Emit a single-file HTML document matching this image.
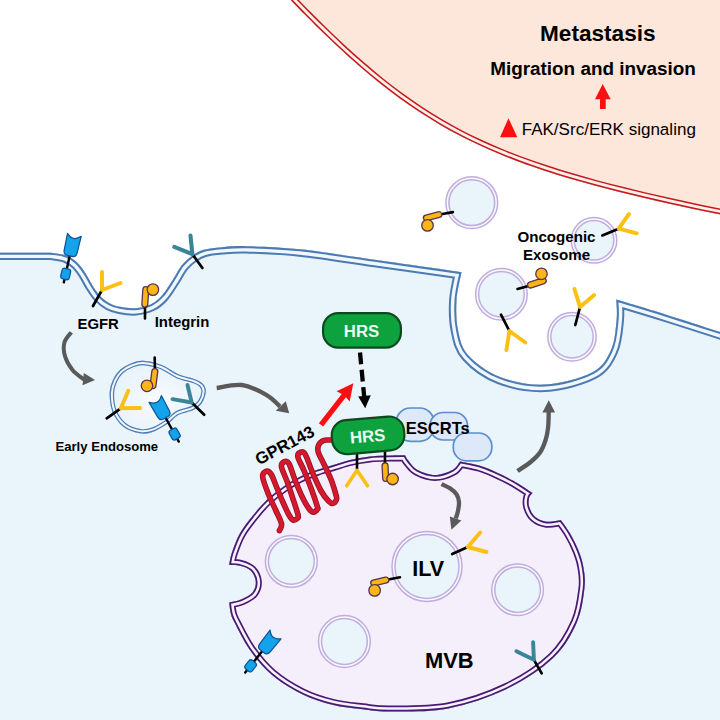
<!DOCTYPE html>
<html><head><meta charset="utf-8"><title>GPR143 / HRS exosome pathway</title>
<style>
html,body{margin:0;padding:0;background:#fff;}
body{width:720px;height:720px;overflow:hidden;}
svg{display:block;font-family:"Liberation Sans",sans-serif;}
</style></head><body>
<svg width="720" height="720" viewBox="0 0 720 720">
<rect width="720" height="720" fill="#ffffff"/>
<clipPath id="cpPink"><path d="M269.60 -22.41 C271.27 -20.63 275.93 -15.60 279.60 -11.72 C283.27 -7.84 287.43 -3.44 291.60 0.88 C295.77 5.21 299.93 9.52 304.60 14.24 C309.27 18.96 313.77 23.52 319.60 29.20 C325.43 34.87 332.93 42.12 339.60 48.29 C346.27 54.47 352.93 60.49 359.60 66.26 C366.27 72.04 372.93 77.63 379.60 82.96 C386.27 88.29 392.93 93.40 399.60 98.26 C406.27 103.11 412.93 107.72 419.60 112.10 C426.27 116.47 432.93 120.59 439.60 124.50 C446.27 128.40 452.93 132.06 459.60 135.53 C466.27 139.01 472.93 142.25 479.60 145.34 C486.27 148.43 492.93 151.31 499.60 154.07 C506.27 156.83 512.10 159.14 519.60 161.90 C527.10 164.66 536.27 167.88 544.60 170.63 C552.93 173.39 561.27 175.95 569.60 178.43 C577.93 180.91 586.27 183.24 594.60 185.50 C602.93 187.76 611.27 189.91 619.60 192.00 C627.93 194.09 636.27 196.09 644.60 198.04 C652.93 200.00 661.27 201.88 669.60 203.73 C677.93 205.58 686.27 207.37 694.60 209.13 C702.93 210.89 710.43 212.44 719.60 214.29 C728.77 216.14 744.60 219.25 749.60 220.24 L750 -30 L270 -30 Z"/></clipPath>
<g clip-path="url(#cpPink)"><path d="M269.60 -22.41 C271.27 -20.63 275.93 -15.60 279.60 -11.72 C283.27 -7.84 287.43 -3.44 291.60 0.88 C295.77 5.21 299.93 9.52 304.60 14.24 C309.27 18.96 313.77 23.52 319.60 29.20 C325.43 34.87 332.93 42.12 339.60 48.29 C346.27 54.47 352.93 60.49 359.60 66.26 C366.27 72.04 372.93 77.63 379.60 82.96 C386.27 88.29 392.93 93.40 399.60 98.26 C406.27 103.11 412.93 107.72 419.60 112.10 C426.27 116.47 432.93 120.59 439.60 124.50 C446.27 128.40 452.93 132.06 459.60 135.53 C466.27 139.01 472.93 142.25 479.60 145.34 C486.27 148.43 492.93 151.31 499.60 154.07 C506.27 156.83 512.10 159.14 519.60 161.90 C527.10 164.66 536.27 167.88 544.60 170.63 C552.93 173.39 561.27 175.95 569.60 178.43 C577.93 180.91 586.27 183.24 594.60 185.50 C602.93 187.76 611.27 189.91 619.60 192.00 C627.93 194.09 636.27 196.09 644.60 198.04 C652.93 200.00 661.27 201.88 669.60 203.73 C677.93 205.58 686.27 207.37 694.60 209.13 C702.93 210.89 710.43 212.44 719.60 214.29 C728.77 216.14 744.60 219.25 749.60 220.24 L750 -30 L270 -30 Z" fill="#fde6da"/>
<path d="M269.60 -22.41 C271.27 -20.63 275.93 -15.60 279.60 -11.72 C283.27 -7.84 287.43 -3.44 291.60 0.88 C295.77 5.21 299.93 9.52 304.60 14.24 C309.27 18.96 313.77 23.52 319.60 29.20 C325.43 34.87 332.93 42.12 339.60 48.29 C346.27 54.47 352.93 60.49 359.60 66.26 C366.27 72.04 372.93 77.63 379.60 82.96 C386.27 88.29 392.93 93.40 399.60 98.26 C406.27 103.11 412.93 107.72 419.60 112.10 C426.27 116.47 432.93 120.59 439.60 124.50 C446.27 128.40 452.93 132.06 459.60 135.53 C466.27 139.01 472.93 142.25 479.60 145.34 C486.27 148.43 492.93 151.31 499.60 154.07 C506.27 156.83 512.10 159.14 519.60 161.90 C527.10 164.66 536.27 167.88 544.60 170.63 C552.93 173.39 561.27 175.95 569.60 178.43 C577.93 180.91 586.27 183.24 594.60 185.50 C602.93 187.76 611.27 189.91 619.60 192.00 C627.93 194.09 636.27 196.09 644.60 198.04 C652.93 200.00 661.27 201.88 669.60 203.73 C677.93 205.58 686.27 207.37 694.60 209.13 C702.93 210.89 710.43 212.44 719.60 214.29 C728.77 216.14 744.60 219.25 749.60 220.24 L750 -30 L270 -30 Z" fill="none" stroke="#c4191d" stroke-width="11.6"/>
<path d="M269.60 -22.41 C271.27 -20.63 275.93 -15.60 279.60 -11.72 C283.27 -7.84 287.43 -3.44 291.60 0.88 C295.77 5.21 299.93 9.52 304.60 14.24 C309.27 18.96 313.77 23.52 319.60 29.20 C325.43 34.87 332.93 42.12 339.60 48.29 C346.27 54.47 352.93 60.49 359.60 66.26 C366.27 72.04 372.93 77.63 379.60 82.96 C386.27 88.29 392.93 93.40 399.60 98.26 C406.27 103.11 412.93 107.72 419.60 112.10 C426.27 116.47 432.93 120.59 439.60 124.50 C446.27 128.40 452.93 132.06 459.60 135.53 C466.27 139.01 472.93 142.25 479.60 145.34 C486.27 148.43 492.93 151.31 499.60 154.07 C506.27 156.83 512.10 159.14 519.60 161.90 C527.10 164.66 536.27 167.88 544.60 170.63 C552.93 173.39 561.27 175.95 569.60 178.43 C577.93 180.91 586.27 183.24 594.60 185.50 C602.93 187.76 611.27 189.91 619.60 192.00 C627.93 194.09 636.27 196.09 644.60 198.04 C652.93 200.00 661.27 201.88 669.60 203.73 C677.93 205.58 686.27 207.37 694.60 209.13 C702.93 210.89 710.43 212.44 719.60 214.29 C728.77 216.14 744.60 219.25 749.60 220.24 L750 -30 L270 -30 Z" fill="none" stroke="#fdf0e9" stroke-width="8.6"/>
<path d="M269.60 -22.41 C271.27 -20.63 275.93 -15.60 279.60 -11.72 C283.27 -7.84 287.43 -3.44 291.60 0.88 C295.77 5.21 299.93 9.52 304.60 14.24 C309.27 18.96 313.77 23.52 319.60 29.20 C325.43 34.87 332.93 42.12 339.60 48.29 C346.27 54.47 352.93 60.49 359.60 66.26 C366.27 72.04 372.93 77.63 379.60 82.96 C386.27 88.29 392.93 93.40 399.60 98.26 C406.27 103.11 412.93 107.72 419.60 112.10 C426.27 116.47 432.93 120.59 439.60 124.50 C446.27 128.40 452.93 132.06 459.60 135.53 C466.27 139.01 472.93 142.25 479.60 145.34 C486.27 148.43 492.93 151.31 499.60 154.07 C506.27 156.83 512.10 159.14 519.60 161.90 C527.10 164.66 536.27 167.88 544.60 170.63 C552.93 173.39 561.27 175.95 569.60 178.43 C577.93 180.91 586.27 183.24 594.60 185.50 C602.93 187.76 611.27 189.91 619.60 192.00 C627.93 194.09 636.27 196.09 644.60 198.04 C652.93 200.00 661.27 201.88 669.60 203.73 C677.93 205.58 686.27 207.37 694.60 209.13 C702.93 210.89 710.43 212.44 719.60 214.29 C728.77 216.14 744.60 219.25 749.60 220.24 L750 -30 L270 -30 Z" fill="none" stroke="#c4191d" stroke-width="3.0"/></g>
<clipPath id="cpCell"><path d="M-30.00 252.70 C-21.67 252.70 7.50 252.70 20.00 252.70 C32.50 252.70 39.50 252.67 45.00 252.70 C50.50 252.73 49.50 252.43 53.00 252.90 C56.50 253.37 62.08 253.98 66.00 255.50 C69.92 257.02 73.33 259.17 76.50 262.00 C79.67 264.83 82.33 268.58 85.00 272.50 C87.67 276.42 90.00 281.58 92.50 285.50 C95.00 289.42 97.17 293.05 100.00 296.00 C102.83 298.95 106.17 301.40 109.50 303.20 C112.83 305.00 115.67 305.97 120.00 306.80 C124.33 307.63 130.33 308.63 135.50 308.20 C140.67 307.77 146.58 306.32 151.00 304.20 C155.42 302.08 158.33 299.62 162.00 295.50 C165.67 291.38 169.67 284.58 173.00 279.50 C176.33 274.42 178.67 269.05 182.00 265.00 C185.33 260.95 189.33 257.73 193.00 255.20 C196.67 252.67 199.17 251.13 204.00 249.80 C208.83 248.47 214.88 247.80 222.00 247.20 C229.12 246.60 233.70 245.85 246.70 246.20 C259.70 246.55 277.78 246.90 300.00 249.30 C322.22 251.70 353.08 256.78 380.00 260.60 C406.92 264.42 447.92 270.27 461.50 272.20 C460.67 276.83 457.08 290.37 456.50 300.00 C455.92 309.63 456.08 320.83 458.00 330.00 C459.92 339.17 461.00 347.17 468.00 355.00 C475.00 362.83 487.08 372.07 500.00 377.00 C512.92 381.93 530.08 385.38 545.50 384.60 C560.92 383.82 581.58 378.07 592.50 372.30 C603.42 366.53 606.98 358.72 611.00 350.00 C615.02 341.28 615.72 328.40 616.60 320.00 C617.48 311.60 616.35 303.00 616.30 299.60 C624.75 302.17 644.72 307.98 667.00 315.00 C689.28 322.02 736.17 337.25 750.00 341.70 L750 760 L-30 760 Z"/></clipPath>
<g clip-path="url(#cpCell)" stroke-linejoin="miter" stroke-miterlimit="20"><path d="M-30.00 252.70 C-21.67 252.70 7.50 252.70 20.00 252.70 C32.50 252.70 39.50 252.67 45.00 252.70 C50.50 252.73 49.50 252.43 53.00 252.90 C56.50 253.37 62.08 253.98 66.00 255.50 C69.92 257.02 73.33 259.17 76.50 262.00 C79.67 264.83 82.33 268.58 85.00 272.50 C87.67 276.42 90.00 281.58 92.50 285.50 C95.00 289.42 97.17 293.05 100.00 296.00 C102.83 298.95 106.17 301.40 109.50 303.20 C112.83 305.00 115.67 305.97 120.00 306.80 C124.33 307.63 130.33 308.63 135.50 308.20 C140.67 307.77 146.58 306.32 151.00 304.20 C155.42 302.08 158.33 299.62 162.00 295.50 C165.67 291.38 169.67 284.58 173.00 279.50 C176.33 274.42 178.67 269.05 182.00 265.00 C185.33 260.95 189.33 257.73 193.00 255.20 C196.67 252.67 199.17 251.13 204.00 249.80 C208.83 248.47 214.88 247.80 222.00 247.20 C229.12 246.60 233.70 245.85 246.70 246.20 C259.70 246.55 277.78 246.90 300.00 249.30 C322.22 251.70 353.08 256.78 380.00 260.60 C406.92 264.42 447.92 270.27 461.50 272.20 C460.67 276.83 457.08 290.37 456.50 300.00 C455.92 309.63 456.08 320.83 458.00 330.00 C459.92 339.17 461.00 347.17 468.00 355.00 C475.00 362.83 487.08 372.07 500.00 377.00 C512.92 381.93 530.08 385.38 545.50 384.60 C560.92 383.82 581.58 378.07 592.50 372.30 C603.42 366.53 606.98 358.72 611.00 350.00 C615.02 341.28 615.72 328.40 616.60 320.00 C617.48 311.60 616.35 303.00 616.30 299.60 C624.75 302.17 644.72 307.98 667.00 315.00 C689.28 322.02 736.17 337.25 750.00 341.70 L750 760 L-30 760 Z" fill="#e9f4fb"/>
<path d="M-30.00 252.70 C-21.67 252.70 7.50 252.70 20.00 252.70 C32.50 252.70 39.50 252.67 45.00 252.70 C50.50 252.73 49.50 252.43 53.00 252.90 C56.50 253.37 62.08 253.98 66.00 255.50 C69.92 257.02 73.33 259.17 76.50 262.00 C79.67 264.83 82.33 268.58 85.00 272.50 C87.67 276.42 90.00 281.58 92.50 285.50 C95.00 289.42 97.17 293.05 100.00 296.00 C102.83 298.95 106.17 301.40 109.50 303.20 C112.83 305.00 115.67 305.97 120.00 306.80 C124.33 307.63 130.33 308.63 135.50 308.20 C140.67 307.77 146.58 306.32 151.00 304.20 C155.42 302.08 158.33 299.62 162.00 295.50 C165.67 291.38 169.67 284.58 173.00 279.50 C176.33 274.42 178.67 269.05 182.00 265.00 C185.33 260.95 189.33 257.73 193.00 255.20 C196.67 252.67 199.17 251.13 204.00 249.80 C208.83 248.47 214.88 247.80 222.00 247.20 C229.12 246.60 233.70 245.85 246.70 246.20 C259.70 246.55 277.78 246.90 300.00 249.30 C322.22 251.70 353.08 256.78 380.00 260.60 C406.92 264.42 447.92 270.27 461.50 272.20 C460.67 276.83 457.08 290.37 456.50 300.00 C455.92 309.63 456.08 320.83 458.00 330.00 C459.92 339.17 461.00 347.17 468.00 355.00 C475.00 362.83 487.08 372.07 500.00 377.00 C512.92 381.93 530.08 385.38 545.50 384.60 C560.92 383.82 581.58 378.07 592.50 372.30 C603.42 366.53 606.98 358.72 611.00 350.00 C615.02 341.28 615.72 328.40 616.60 320.00 C617.48 311.60 616.35 303.00 616.30 299.60 C624.75 302.17 644.72 307.98 667.00 315.00 C689.28 322.02 736.17 337.25 750.00 341.70 L750 760 L-30 760 Z" fill="none" stroke="#4c7ab3" stroke-width="14.8"/>
<path d="M-30.00 252.70 C-21.67 252.70 7.50 252.70 20.00 252.70 C32.50 252.70 39.50 252.67 45.00 252.70 C50.50 252.73 49.50 252.43 53.00 252.90 C56.50 253.37 62.08 253.98 66.00 255.50 C69.92 257.02 73.33 259.17 76.50 262.00 C79.67 264.83 82.33 268.58 85.00 272.50 C87.67 276.42 90.00 281.58 92.50 285.50 C95.00 289.42 97.17 293.05 100.00 296.00 C102.83 298.95 106.17 301.40 109.50 303.20 C112.83 305.00 115.67 305.97 120.00 306.80 C124.33 307.63 130.33 308.63 135.50 308.20 C140.67 307.77 146.58 306.32 151.00 304.20 C155.42 302.08 158.33 299.62 162.00 295.50 C165.67 291.38 169.67 284.58 173.00 279.50 C176.33 274.42 178.67 269.05 182.00 265.00 C185.33 260.95 189.33 257.73 193.00 255.20 C196.67 252.67 199.17 251.13 204.00 249.80 C208.83 248.47 214.88 247.80 222.00 247.20 C229.12 246.60 233.70 245.85 246.70 246.20 C259.70 246.55 277.78 246.90 300.00 249.30 C322.22 251.70 353.08 256.78 380.00 260.60 C406.92 264.42 447.92 270.27 461.50 272.20 C460.67 276.83 457.08 290.37 456.50 300.00 C455.92 309.63 456.08 320.83 458.00 330.00 C459.92 339.17 461.00 347.17 468.00 355.00 C475.00 362.83 487.08 372.07 500.00 377.00 C512.92 381.93 530.08 385.38 545.50 384.60 C560.92 383.82 581.58 378.07 592.50 372.30 C603.42 366.53 606.98 358.72 611.00 350.00 C615.02 341.28 615.72 328.40 616.60 320.00 C617.48 311.60 616.35 303.00 616.30 299.60 C624.75 302.17 644.72 307.98 667.00 315.00 C689.28 322.02 736.17 337.25 750.00 341.70 L750 760 L-30 760 Z" fill="none" stroke="#f1f8fd" stroke-width="10.8"/>
<path d="M-30.00 252.70 C-21.67 252.70 7.50 252.70 20.00 252.70 C32.50 252.70 39.50 252.67 45.00 252.70 C50.50 252.73 49.50 252.43 53.00 252.90 C56.50 253.37 62.08 253.98 66.00 255.50 C69.92 257.02 73.33 259.17 76.50 262.00 C79.67 264.83 82.33 268.58 85.00 272.50 C87.67 276.42 90.00 281.58 92.50 285.50 C95.00 289.42 97.17 293.05 100.00 296.00 C102.83 298.95 106.17 301.40 109.50 303.20 C112.83 305.00 115.67 305.97 120.00 306.80 C124.33 307.63 130.33 308.63 135.50 308.20 C140.67 307.77 146.58 306.32 151.00 304.20 C155.42 302.08 158.33 299.62 162.00 295.50 C165.67 291.38 169.67 284.58 173.00 279.50 C176.33 274.42 178.67 269.05 182.00 265.00 C185.33 260.95 189.33 257.73 193.00 255.20 C196.67 252.67 199.17 251.13 204.00 249.80 C208.83 248.47 214.88 247.80 222.00 247.20 C229.12 246.60 233.70 245.85 246.70 246.20 C259.70 246.55 277.78 246.90 300.00 249.30 C322.22 251.70 353.08 256.78 380.00 260.60 C406.92 264.42 447.92 270.27 461.50 272.20 C460.67 276.83 457.08 290.37 456.50 300.00 C455.92 309.63 456.08 320.83 458.00 330.00 C459.92 339.17 461.00 347.17 468.00 355.00 C475.00 362.83 487.08 372.07 500.00 377.00 C512.92 381.93 530.08 385.38 545.50 384.60 C560.92 383.82 581.58 378.07 592.50 372.30 C603.42 366.53 606.98 358.72 611.00 350.00 C615.02 341.28 615.72 328.40 616.60 320.00 C617.48 311.60 616.35 303.00 616.30 299.60 C624.75 302.17 644.72 307.98 667.00 315.00 C689.28 322.02 736.17 337.25 750.00 341.70 L750 760 L-30 760 Z" fill="none" stroke="#4c7ab3" stroke-width="4.0"/></g>
<clipPath id="cpMvb"><path d="M229.20 602.50 C229.47 604.30 229.93 610.02 230.80 613.30 C231.67 616.58 231.25 616.13 234.40 622.20 C237.55 628.27 243.58 641.03 249.70 649.70 C255.82 658.37 262.43 666.82 271.10 674.20 C279.77 681.58 291.52 688.92 301.70 694.00 C311.88 699.08 322.02 702.15 332.20 704.70 C342.38 707.25 353.17 708.17 362.80 709.30 C372.43 710.43 375.75 711.65 390.00 711.50 C404.25 711.35 428.85 712.15 448.30 708.40 C467.75 704.65 489.18 697.43 506.70 689.00 C524.22 680.57 541.73 668.83 553.40 657.80 C565.07 646.77 571.52 634.47 576.70 622.80 C581.88 611.13 583.40 597.15 584.50 587.80 C585.60 578.45 584.33 573.00 583.30 566.70 C582.27 560.40 580.52 555.57 578.30 550.00 C576.08 544.43 572.92 538.30 570.00 533.30 C567.08 528.30 562.33 522.22 560.80 520.00 C558.45 520.28 551.00 522.25 546.70 521.70 C542.40 521.15 537.92 519.20 535.00 516.70 C532.08 514.20 530.17 509.90 529.20 506.70 C528.23 503.50 528.65 499.78 529.20 497.50 C529.75 495.22 531.95 493.75 532.50 493.00 C529.30 490.97 519.27 484.22 513.30 480.80 C507.33 477.38 502.25 475.00 496.70 472.50 C491.15 470.00 486.12 467.63 480.00 465.80 C473.88 463.97 463.33 462.22 460.00 461.50 C458.75 462.92 456.67 467.75 452.50 470.00 C448.33 472.25 440.83 475.00 435.00 475.00 C429.17 475.00 421.87 472.28 417.50 470.00 C413.13 467.72 410.88 463.75 408.80 461.30 C406.72 458.85 405.63 456.30 405.00 455.30 C402.50 455.33 395.83 455.30 390.00 455.50 C384.17 455.70 376.67 455.75 370.00 456.50 C363.33 457.25 356.12 458.58 350.00 460.00 C343.88 461.42 338.85 463.33 333.30 465.00 C327.75 466.67 322.25 468.05 316.70 470.00 C311.15 471.95 305.57 473.92 300.00 476.70 C294.43 479.48 288.85 482.82 283.30 486.70 C277.75 490.58 271.70 495.28 266.70 500.00 C261.70 504.72 257.75 509.45 253.30 515.00 C248.85 520.55 243.60 526.92 240.00 533.30 C236.40 539.68 233.50 548.02 231.70 553.30 C229.90 558.58 229.62 563.05 229.20 565.00 C231.00 565.13 236.40 564.83 240.00 565.80 C243.60 566.77 248.17 568.15 250.80 570.80 C253.43 573.45 255.52 578.08 255.80 581.70 C256.08 585.32 254.85 589.58 252.50 592.50 C250.15 595.42 245.58 597.53 241.70 599.20 C237.82 600.87 231.28 601.95 229.20 602.50 Z"/></clipPath>
<g clip-path="url(#cpMvb)" stroke-linejoin="miter" stroke-miterlimit="20"><path d="M229.20 602.50 C229.47 604.30 229.93 610.02 230.80 613.30 C231.67 616.58 231.25 616.13 234.40 622.20 C237.55 628.27 243.58 641.03 249.70 649.70 C255.82 658.37 262.43 666.82 271.10 674.20 C279.77 681.58 291.52 688.92 301.70 694.00 C311.88 699.08 322.02 702.15 332.20 704.70 C342.38 707.25 353.17 708.17 362.80 709.30 C372.43 710.43 375.75 711.65 390.00 711.50 C404.25 711.35 428.85 712.15 448.30 708.40 C467.75 704.65 489.18 697.43 506.70 689.00 C524.22 680.57 541.73 668.83 553.40 657.80 C565.07 646.77 571.52 634.47 576.70 622.80 C581.88 611.13 583.40 597.15 584.50 587.80 C585.60 578.45 584.33 573.00 583.30 566.70 C582.27 560.40 580.52 555.57 578.30 550.00 C576.08 544.43 572.92 538.30 570.00 533.30 C567.08 528.30 562.33 522.22 560.80 520.00 C558.45 520.28 551.00 522.25 546.70 521.70 C542.40 521.15 537.92 519.20 535.00 516.70 C532.08 514.20 530.17 509.90 529.20 506.70 C528.23 503.50 528.65 499.78 529.20 497.50 C529.75 495.22 531.95 493.75 532.50 493.00 C529.30 490.97 519.27 484.22 513.30 480.80 C507.33 477.38 502.25 475.00 496.70 472.50 C491.15 470.00 486.12 467.63 480.00 465.80 C473.88 463.97 463.33 462.22 460.00 461.50 C458.75 462.92 456.67 467.75 452.50 470.00 C448.33 472.25 440.83 475.00 435.00 475.00 C429.17 475.00 421.87 472.28 417.50 470.00 C413.13 467.72 410.88 463.75 408.80 461.30 C406.72 458.85 405.63 456.30 405.00 455.30 C402.50 455.33 395.83 455.30 390.00 455.50 C384.17 455.70 376.67 455.75 370.00 456.50 C363.33 457.25 356.12 458.58 350.00 460.00 C343.88 461.42 338.85 463.33 333.30 465.00 C327.75 466.67 322.25 468.05 316.70 470.00 C311.15 471.95 305.57 473.92 300.00 476.70 C294.43 479.48 288.85 482.82 283.30 486.70 C277.75 490.58 271.70 495.28 266.70 500.00 C261.70 504.72 257.75 509.45 253.30 515.00 C248.85 520.55 243.60 526.92 240.00 533.30 C236.40 539.68 233.50 548.02 231.70 553.30 C229.90 558.58 229.62 563.05 229.20 565.00 C231.00 565.13 236.40 564.83 240.00 565.80 C243.60 566.77 248.17 568.15 250.80 570.80 C253.43 573.45 255.52 578.08 255.80 581.70 C256.08 585.32 254.85 589.58 252.50 592.50 C250.15 595.42 245.58 597.53 241.70 599.20 C237.82 600.87 231.28 601.95 229.20 602.50 Z" fill="#f5eefb"/>
<path d="M229.20 602.50 C229.47 604.30 229.93 610.02 230.80 613.30 C231.67 616.58 231.25 616.13 234.40 622.20 C237.55 628.27 243.58 641.03 249.70 649.70 C255.82 658.37 262.43 666.82 271.10 674.20 C279.77 681.58 291.52 688.92 301.70 694.00 C311.88 699.08 322.02 702.15 332.20 704.70 C342.38 707.25 353.17 708.17 362.80 709.30 C372.43 710.43 375.75 711.65 390.00 711.50 C404.25 711.35 428.85 712.15 448.30 708.40 C467.75 704.65 489.18 697.43 506.70 689.00 C524.22 680.57 541.73 668.83 553.40 657.80 C565.07 646.77 571.52 634.47 576.70 622.80 C581.88 611.13 583.40 597.15 584.50 587.80 C585.60 578.45 584.33 573.00 583.30 566.70 C582.27 560.40 580.52 555.57 578.30 550.00 C576.08 544.43 572.92 538.30 570.00 533.30 C567.08 528.30 562.33 522.22 560.80 520.00 C558.45 520.28 551.00 522.25 546.70 521.70 C542.40 521.15 537.92 519.20 535.00 516.70 C532.08 514.20 530.17 509.90 529.20 506.70 C528.23 503.50 528.65 499.78 529.20 497.50 C529.75 495.22 531.95 493.75 532.50 493.00 C529.30 490.97 519.27 484.22 513.30 480.80 C507.33 477.38 502.25 475.00 496.70 472.50 C491.15 470.00 486.12 467.63 480.00 465.80 C473.88 463.97 463.33 462.22 460.00 461.50 C458.75 462.92 456.67 467.75 452.50 470.00 C448.33 472.25 440.83 475.00 435.00 475.00 C429.17 475.00 421.87 472.28 417.50 470.00 C413.13 467.72 410.88 463.75 408.80 461.30 C406.72 458.85 405.63 456.30 405.00 455.30 C402.50 455.33 395.83 455.30 390.00 455.50 C384.17 455.70 376.67 455.75 370.00 456.50 C363.33 457.25 356.12 458.58 350.00 460.00 C343.88 461.42 338.85 463.33 333.30 465.00 C327.75 466.67 322.25 468.05 316.70 470.00 C311.15 471.95 305.57 473.92 300.00 476.70 C294.43 479.48 288.85 482.82 283.30 486.70 C277.75 490.58 271.70 495.28 266.70 500.00 C261.70 504.72 257.75 509.45 253.30 515.00 C248.85 520.55 243.60 526.92 240.00 533.30 C236.40 539.68 233.50 548.02 231.70 553.30 C229.90 558.58 229.62 563.05 229.20 565.00 C231.00 565.13 236.40 564.83 240.00 565.80 C243.60 566.77 248.17 568.15 250.80 570.80 C253.43 573.45 255.52 578.08 255.80 581.70 C256.08 585.32 254.85 589.58 252.50 592.50 C250.15 595.42 245.58 597.53 241.70 599.20 C237.82 600.87 231.28 601.95 229.20 602.50 Z" fill="none" stroke="#481a72" stroke-width="12.0"/>
<path d="M229.20 602.50 C229.47 604.30 229.93 610.02 230.80 613.30 C231.67 616.58 231.25 616.13 234.40 622.20 C237.55 628.27 243.58 641.03 249.70 649.70 C255.82 658.37 262.43 666.82 271.10 674.20 C279.77 681.58 291.52 688.92 301.70 694.00 C311.88 699.08 322.02 702.15 332.20 704.70 C342.38 707.25 353.17 708.17 362.80 709.30 C372.43 710.43 375.75 711.65 390.00 711.50 C404.25 711.35 428.85 712.15 448.30 708.40 C467.75 704.65 489.18 697.43 506.70 689.00 C524.22 680.57 541.73 668.83 553.40 657.80 C565.07 646.77 571.52 634.47 576.70 622.80 C581.88 611.13 583.40 597.15 584.50 587.80 C585.60 578.45 584.33 573.00 583.30 566.70 C582.27 560.40 580.52 555.57 578.30 550.00 C576.08 544.43 572.92 538.30 570.00 533.30 C567.08 528.30 562.33 522.22 560.80 520.00 C558.45 520.28 551.00 522.25 546.70 521.70 C542.40 521.15 537.92 519.20 535.00 516.70 C532.08 514.20 530.17 509.90 529.20 506.70 C528.23 503.50 528.65 499.78 529.20 497.50 C529.75 495.22 531.95 493.75 532.50 493.00 C529.30 490.97 519.27 484.22 513.30 480.80 C507.33 477.38 502.25 475.00 496.70 472.50 C491.15 470.00 486.12 467.63 480.00 465.80 C473.88 463.97 463.33 462.22 460.00 461.50 C458.75 462.92 456.67 467.75 452.50 470.00 C448.33 472.25 440.83 475.00 435.00 475.00 C429.17 475.00 421.87 472.28 417.50 470.00 C413.13 467.72 410.88 463.75 408.80 461.30 C406.72 458.85 405.63 456.30 405.00 455.30 C402.50 455.33 395.83 455.30 390.00 455.50 C384.17 455.70 376.67 455.75 370.00 456.50 C363.33 457.25 356.12 458.58 350.00 460.00 C343.88 461.42 338.85 463.33 333.30 465.00 C327.75 466.67 322.25 468.05 316.70 470.00 C311.15 471.95 305.57 473.92 300.00 476.70 C294.43 479.48 288.85 482.82 283.30 486.70 C277.75 490.58 271.70 495.28 266.70 500.00 C261.70 504.72 257.75 509.45 253.30 515.00 C248.85 520.55 243.60 526.92 240.00 533.30 C236.40 539.68 233.50 548.02 231.70 553.30 C229.90 558.58 229.62 563.05 229.20 565.00 C231.00 565.13 236.40 564.83 240.00 565.80 C243.60 566.77 248.17 568.15 250.80 570.80 C253.43 573.45 255.52 578.08 255.80 581.70 C256.08 585.32 254.85 589.58 252.50 592.50 C250.15 595.42 245.58 597.53 241.70 599.20 C237.82 600.87 231.28 601.95 229.20 602.50 Z" fill="none" stroke="#f7f1fc" stroke-width="8.6"/>
<path d="M229.20 602.50 C229.47 604.30 229.93 610.02 230.80 613.30 C231.67 616.58 231.25 616.13 234.40 622.20 C237.55 628.27 243.58 641.03 249.70 649.70 C255.82 658.37 262.43 666.82 271.10 674.20 C279.77 681.58 291.52 688.92 301.70 694.00 C311.88 699.08 322.02 702.15 332.20 704.70 C342.38 707.25 353.17 708.17 362.80 709.30 C372.43 710.43 375.75 711.65 390.00 711.50 C404.25 711.35 428.85 712.15 448.30 708.40 C467.75 704.65 489.18 697.43 506.70 689.00 C524.22 680.57 541.73 668.83 553.40 657.80 C565.07 646.77 571.52 634.47 576.70 622.80 C581.88 611.13 583.40 597.15 584.50 587.80 C585.60 578.45 584.33 573.00 583.30 566.70 C582.27 560.40 580.52 555.57 578.30 550.00 C576.08 544.43 572.92 538.30 570.00 533.30 C567.08 528.30 562.33 522.22 560.80 520.00 C558.45 520.28 551.00 522.25 546.70 521.70 C542.40 521.15 537.92 519.20 535.00 516.70 C532.08 514.20 530.17 509.90 529.20 506.70 C528.23 503.50 528.65 499.78 529.20 497.50 C529.75 495.22 531.95 493.75 532.50 493.00 C529.30 490.97 519.27 484.22 513.30 480.80 C507.33 477.38 502.25 475.00 496.70 472.50 C491.15 470.00 486.12 467.63 480.00 465.80 C473.88 463.97 463.33 462.22 460.00 461.50 C458.75 462.92 456.67 467.75 452.50 470.00 C448.33 472.25 440.83 475.00 435.00 475.00 C429.17 475.00 421.87 472.28 417.50 470.00 C413.13 467.72 410.88 463.75 408.80 461.30 C406.72 458.85 405.63 456.30 405.00 455.30 C402.50 455.33 395.83 455.30 390.00 455.50 C384.17 455.70 376.67 455.75 370.00 456.50 C363.33 457.25 356.12 458.58 350.00 460.00 C343.88 461.42 338.85 463.33 333.30 465.00 C327.75 466.67 322.25 468.05 316.70 470.00 C311.15 471.95 305.57 473.92 300.00 476.70 C294.43 479.48 288.85 482.82 283.30 486.70 C277.75 490.58 271.70 495.28 266.70 500.00 C261.70 504.72 257.75 509.45 253.30 515.00 C248.85 520.55 243.60 526.92 240.00 533.30 C236.40 539.68 233.50 548.02 231.70 553.30 C229.90 558.58 229.62 563.05 229.20 565.00 C231.00 565.13 236.40 564.83 240.00 565.80 C243.60 566.77 248.17 568.15 250.80 570.80 C253.43 573.45 255.52 578.08 255.80 581.70 C256.08 585.32 254.85 589.58 252.50 592.50 C250.15 595.42 245.58 597.53 241.70 599.20 C237.82 600.87 231.28 601.95 229.20 602.50 Z" fill="none" stroke="#481a72" stroke-width="3.4"/></g>
<circle cx="291.3" cy="561.3" r="25.9" fill="#fbf8fe" stroke="#bfaddd" stroke-width="1.5"/>
<circle cx="291.3" cy="561.3" r="22.9" fill="#e9f4fb" stroke="#bfaddd" stroke-width="1.5"/>
<circle cx="344.4" cy="641.5" r="25.9" fill="#fbf8fe" stroke="#bfaddd" stroke-width="1.5"/>
<circle cx="344.4" cy="641.5" r="22.9" fill="#e9f4fb" stroke="#bfaddd" stroke-width="1.5"/>
<circle cx="427.0" cy="566.4" r="35.0" fill="#fbf8fe" stroke="#bfaddd" stroke-width="1.5"/>
<circle cx="427.0" cy="566.4" r="32.0" fill="#e9f4fb" stroke="#bfaddd" stroke-width="1.5"/>
<circle cx="517.6" cy="589.7" r="25.8" fill="#fbf8fe" stroke="#bfaddd" stroke-width="1.5"/>
<circle cx="517.6" cy="589.7" r="22.8" fill="#e9f4fb" stroke="#bfaddd" stroke-width="1.5"/>
<circle cx="471.8" cy="202.7" r="25.9" fill="#fbf8fe" stroke="#bfaddd" stroke-width="1.5"/>
<circle cx="471.8" cy="202.7" r="22.9" fill="#e9f4fb" stroke="#bfaddd" stroke-width="1.5"/>
<circle cx="594.0" cy="240.3" r="22.8" fill="#fbf8fe" stroke="#bfaddd" stroke-width="1.5"/>
<circle cx="594.0" cy="240.3" r="19.8" fill="#e9f4fb" stroke="#bfaddd" stroke-width="1.5"/>
<circle cx="501.4" cy="294.2" r="25.8" fill="#fbf8fe" stroke="#bfaddd" stroke-width="1.5"/>
<circle cx="501.4" cy="294.2" r="22.8" fill="#e9f4fb" stroke="#bfaddd" stroke-width="1.5"/>
<circle cx="572.0" cy="336.8" r="24.2" fill="#fbf8fe" stroke="#bfaddd" stroke-width="1.5"/>
<circle cx="572.0" cy="336.8" r="21.2" fill="#e9f4fb" stroke="#bfaddd" stroke-width="1.5"/>
<radialGradient id="gEndo" cx="50%" cy="55%" r="55%"><stop offset="0" stop-color="#f7fbfe"/><stop offset="1" stop-color="#e6f2fa"/></radialGradient>
<clipPath id="cpEndo"><path d="M109.70 393.30 C109.78 388.02 111.28 383.88 113.00 380.00 C114.72 376.12 117.00 372.75 120.00 370.00 C123.00 367.25 127.12 365.03 131.00 363.50 C134.88 361.97 138.18 360.55 143.30 360.80 C148.42 361.05 155.87 362.77 161.70 365.00 C167.53 367.23 172.75 371.83 178.30 374.20 C183.85 376.57 190.88 377.57 195.00 379.20 C199.12 380.83 201.20 381.92 203.00 384.00 C204.80 386.08 206.02 388.48 205.80 391.70 C205.58 394.92 203.78 400.25 201.70 403.30 C199.62 406.35 197.20 408.05 193.30 410.00 C189.40 411.95 182.47 412.78 178.30 415.00 C174.13 417.22 172.47 420.52 168.30 423.30 C164.13 426.08 158.02 430.03 153.30 431.70 C148.58 433.37 145.00 434.13 140.00 433.30 C135.00 432.47 127.88 430.30 123.30 426.70 C118.72 423.10 114.77 417.27 112.50 411.70 C110.23 406.13 109.62 398.58 109.70 393.30 Z"/></clipPath>
<g clip-path="url(#cpEndo)"><path d="M109.70 393.30 C109.78 388.02 111.28 383.88 113.00 380.00 C114.72 376.12 117.00 372.75 120.00 370.00 C123.00 367.25 127.12 365.03 131.00 363.50 C134.88 361.97 138.18 360.55 143.30 360.80 C148.42 361.05 155.87 362.77 161.70 365.00 C167.53 367.23 172.75 371.83 178.30 374.20 C183.85 376.57 190.88 377.57 195.00 379.20 C199.12 380.83 201.20 381.92 203.00 384.00 C204.80 386.08 206.02 388.48 205.80 391.70 C205.58 394.92 203.78 400.25 201.70 403.30 C199.62 406.35 197.20 408.05 193.30 410.00 C189.40 411.95 182.47 412.78 178.30 415.00 C174.13 417.22 172.47 420.52 168.30 423.30 C164.13 426.08 158.02 430.03 153.30 431.70 C148.58 433.37 145.00 434.13 140.00 433.30 C135.00 432.47 127.88 430.30 123.30 426.70 C118.72 423.10 114.77 417.27 112.50 411.70 C110.23 406.13 109.62 398.58 109.70 393.30 Z" fill="url(#gEndo)"/>
<path d="M109.70 393.30 C109.78 388.02 111.28 383.88 113.00 380.00 C114.72 376.12 117.00 372.75 120.00 370.00 C123.00 367.25 127.12 365.03 131.00 363.50 C134.88 361.97 138.18 360.55 143.30 360.80 C148.42 361.05 155.87 362.77 161.70 365.00 C167.53 367.23 172.75 371.83 178.30 374.20 C183.85 376.57 190.88 377.57 195.00 379.20 C199.12 380.83 201.20 381.92 203.00 384.00 C204.80 386.08 206.02 388.48 205.80 391.70 C205.58 394.92 203.78 400.25 201.70 403.30 C199.62 406.35 197.20 408.05 193.30 410.00 C189.40 411.95 182.47 412.78 178.30 415.00 C174.13 417.22 172.47 420.52 168.30 423.30 C164.13 426.08 158.02 430.03 153.30 431.70 C148.58 433.37 145.00 434.13 140.00 433.30 C135.00 432.47 127.88 430.30 123.30 426.70 C118.72 423.10 114.77 417.27 112.50 411.70 C110.23 406.13 109.62 398.58 109.70 393.30 Z" fill="none" stroke="#4c7ab3" stroke-width="8.8"/>
<path d="M109.70 393.30 C109.78 388.02 111.28 383.88 113.00 380.00 C114.72 376.12 117.00 372.75 120.00 370.00 C123.00 367.25 127.12 365.03 131.00 363.50 C134.88 361.97 138.18 360.55 143.30 360.80 C148.42 361.05 155.87 362.77 161.70 365.00 C167.53 367.23 172.75 371.83 178.30 374.20 C183.85 376.57 190.88 377.57 195.00 379.20 C199.12 380.83 201.20 381.92 203.00 384.00 C204.80 386.08 206.02 388.48 205.80 391.70 C205.58 394.92 203.78 400.25 201.70 403.30 C199.62 406.35 197.20 408.05 193.30 410.00 C189.40 411.95 182.47 412.78 178.30 415.00 C174.13 417.22 172.47 420.52 168.30 423.30 C164.13 426.08 158.02 430.03 153.30 431.70 C148.58 433.37 145.00 434.13 140.00 433.30 C135.00 432.47 127.88 430.30 123.30 426.70 C118.72 423.10 114.77 417.27 112.50 411.70 C110.23 406.13 109.62 398.58 109.70 393.30 Z" fill="none" stroke="#f1f8fd" stroke-width="6.4"/>
<path d="M109.70 393.30 C109.78 388.02 111.28 383.88 113.00 380.00 C114.72 376.12 117.00 372.75 120.00 370.00 C123.00 367.25 127.12 365.03 131.00 363.50 C134.88 361.97 138.18 360.55 143.30 360.80 C148.42 361.05 155.87 362.77 161.70 365.00 C167.53 367.23 172.75 371.83 178.30 374.20 C183.85 376.57 190.88 377.57 195.00 379.20 C199.12 380.83 201.20 381.92 203.00 384.00 C204.80 386.08 206.02 388.48 205.80 391.70 C205.58 394.92 203.78 400.25 201.70 403.30 C199.62 406.35 197.20 408.05 193.30 410.00 C189.40 411.95 182.47 412.78 178.30 415.00 C174.13 417.22 172.47 420.52 168.30 423.30 C164.13 426.08 158.02 430.03 153.30 431.70 C148.58 433.37 145.00 434.13 140.00 433.30 C135.00 432.47 127.88 430.30 123.30 426.70 C118.72 423.10 114.77 417.27 112.50 411.70 C110.23 406.13 109.62 398.58 109.70 393.30 Z" fill="none" stroke="#4c7ab3" stroke-width="2.4"/></g>
<g transform="translate(74.1 236.0) rotate(12.5) scale(1.000)">
<path d="M0 20 L0 47.5" stroke="#000" stroke-width="2.4" stroke-linecap="round" fill="none"/>
<path d="M-7 -1.2 Q0 6.2 7 -1.2 L6.6 16 Q6.4 20.4 2.4 20.4 L-2.4 20.4 Q-6.4 20.4 -6.6 16 Z" fill="#14a3ea" stroke="#0b549a" stroke-width="1.25" stroke-linejoin="round"/>
<rect x="-4.4" y="33.5" width="8.8" height="10.8" rx="2.6" fill="#14a3ea" stroke="#0b549a" stroke-width="1.25"/>
</g>
<path d="M102.0 290.0 L93.0 306.0" stroke="#000" stroke-width="2.7" stroke-linecap="round" fill="none"/>
<path d="M102.0 272.0 L102.0 290.0 L120.5 283.0" stroke="#fcc012" stroke-width="3.9" stroke-linecap="round" stroke-linejoin="round" fill="none"/>
<path d="M145.0 318.5 L145.0 307.0" stroke="#000" stroke-width="2.6" stroke-linecap="round" fill="none"/>
<path d="M144.83 304.21 L145.77 289.59" stroke="#57334f" stroke-width="7.2" stroke-linecap="round" fill="none"/>
<path d="M144.83 304.21 L145.77 289.59" stroke="#fbb616" stroke-width="4.6" stroke-linecap="round" fill="none"/>
<circle cx="152.9" cy="289.6" r="5.75" fill="#fbb616" stroke="#57334f" stroke-width="1.3"/>
<path d="M192.4 254.2 L202.4 268.0" stroke="#000" stroke-width="2.7" stroke-linecap="round" fill="none"/>
<path d="M190.5 235.6 L192.4 254.2 L174.3 246.9" stroke="#3a8598" stroke-width="4.1" stroke-linecap="round" stroke-linejoin="round" fill="none"/>
<path d="M154.7 357.5 L154.9 368.5" stroke="#000" stroke-width="2.6" stroke-linecap="round" fill="none"/>
<path d="M154.83 371.57 L152.97 385.63" stroke="#57334f" stroke-width="7.2" stroke-linecap="round" fill="none"/>
<path d="M154.83 371.57 L152.97 385.63" stroke="#fbb616" stroke-width="4.6" stroke-linecap="round" fill="none"/>
<circle cx="147.0" cy="385.8" r="5.75" fill="#fbb616" stroke="#57334f" stroke-width="1.3"/>
<path d="M120.8 408.3 L106.7 418.3" stroke="#000" stroke-width="2.7" stroke-linecap="round" fill="none"/>
<path d="M128.3 390.8 L120.8 408.3 L140.0 408.0" stroke="#fcc012" stroke-width="3.9" stroke-linecap="round" stroke-linejoin="round" fill="none"/>
<g transform="translate(155.8 400.0) rotate(-28.9) scale(1.000)">
<path d="M0 20 L0 47.5" stroke="#000" stroke-width="2.4" stroke-linecap="round" fill="none"/>
<path d="M-7 -1.2 Q0 6.2 7 -1.2 L6.6 16 Q6.4 20.4 2.4 20.4 L-2.4 20.4 Q-6.4 20.4 -6.6 16 Z" fill="#14a3ea" stroke="#0b549a" stroke-width="1.25" stroke-linejoin="round"/>
<rect x="-4.4" y="33.5" width="8.8" height="10.8" rx="2.6" fill="#14a3ea" stroke="#0b549a" stroke-width="1.25"/>
</g>
<path d="M191.7 402.5 L204.2 414.7" stroke="#000" stroke-width="2.7" stroke-linecap="round" fill="none"/>
<path d="M187.5 385.0 L191.7 402.5 L172.5 399.2" stroke="#3a8598" stroke-width="3.9" stroke-linecap="round" stroke-linejoin="round" fill="none"/>
<g transform="translate(274.8 635.4) rotate(38.5) scale(1.000)">
<path d="M0 20 L0 47.5" stroke="#000" stroke-width="2.4" stroke-linecap="round" fill="none"/>
<path d="M-7 -1.2 Q0 6.2 7 -1.2 L6.6 16 Q6.4 20.4 2.4 20.4 L-2.4 20.4 Q-6.4 20.4 -6.6 16 Z" fill="#14a3ea" stroke="#0b549a" stroke-width="1.25" stroke-linejoin="round"/>
<rect x="-4.4" y="33.5" width="8.8" height="10.8" rx="2.6" fill="#14a3ea" stroke="#0b549a" stroke-width="1.25"/>
</g>
<path d="M533.9 659.8 L541.7 673.4" stroke="#000" stroke-width="2.7" stroke-linecap="round" fill="none"/>
<path d="M533.1 642.2 L533.9 659.8 L516.4 651.2" stroke="#3a8598" stroke-width="3.9" stroke-linecap="round" stroke-linejoin="round" fill="none"/>
<path d="M467.8 547.0 L452.2 554.0" stroke="#000" stroke-width="2.7" stroke-linecap="round" fill="none"/>
<path d="M480.2 532.6 L467.8 547.0 L486.5 552.0" stroke="#fcc012" stroke-width="3.9" stroke-linecap="round" stroke-linejoin="round" fill="none"/>
<path d="M400.0 577.3 L389.6 579.2" stroke="#000" stroke-width="2.6" stroke-linecap="round" fill="none"/>
<path d="M385.90 580.04 L373.70 582.96" stroke="#57334f" stroke-width="7.2" stroke-linecap="round" fill="none"/>
<path d="M385.90 580.04 L373.70 582.96" stroke="#fbb616" stroke-width="4.6" stroke-linecap="round" fill="none"/>
<circle cx="374.6" cy="590.4" r="5.75" fill="#fbb616" stroke="#57334f" stroke-width="1.3"/>
<path d="M452.9 212.1 L442.5 214.0" stroke="#000" stroke-width="2.6" stroke-linecap="round" fill="none"/>
<path d="M438.82 214.62 L426.38 217.88" stroke="#57334f" stroke-width="7.2" stroke-linecap="round" fill="none"/>
<path d="M438.82 214.62 L426.38 217.88" stroke="#fbb616" stroke-width="4.6" stroke-linecap="round" fill="none"/>
<circle cx="427.5" cy="225.4" r="5.75" fill="#fbb616" stroke="#57334f" stroke-width="1.3"/>
<path d="M618.6 228.7 L602.3 235.4" stroke="#000" stroke-width="2.7" stroke-linecap="round" fill="none"/>
<path d="M629.0 214.0 L618.6 228.7 L636.7 233.3" stroke="#fcc012" stroke-width="3.9" stroke-linecap="round" stroke-linejoin="round" fill="none"/>
<path d="M517.5 289.0 L527.5 286.2" stroke="#000" stroke-width="2.6" stroke-linecap="round" fill="none"/>
<path d="M530.52 284.97 L543.28 280.73" stroke="#57334f" stroke-width="7.2" stroke-linecap="round" fill="none"/>
<path d="M530.52 284.97 L543.28 280.73" stroke="#fbb616" stroke-width="4.6" stroke-linecap="round" fill="none"/>
<circle cx="541.5" cy="273.8" r="5.75" fill="#fbb616" stroke="#57334f" stroke-width="1.3"/>
<path d="M509.4 331.0 L501.0 314.7" stroke="#000" stroke-width="2.7" stroke-linecap="round" fill="none"/>
<path d="M525.3 342.5 L509.4 331.0 L506.4 350.0" stroke="#fcc012" stroke-width="3.9" stroke-linecap="round" stroke-linejoin="round" fill="none"/>
<path d="M580.0 307.0 L575.3 325.0" stroke="#000" stroke-width="2.7" stroke-linecap="round" fill="none"/>
<path d="M574.4 288.9 L580.0 307.0 L594.2 295.0" stroke="#fcc012" stroke-width="3.9" stroke-linecap="round" stroke-linejoin="round" fill="none"/>
<rect x="396.3" y="408.0" width="37.5" height="33.3" rx="14.0" fill="#dde8f9" stroke="#5b8fcb" stroke-width="1.7"/>
<rect x="430.0" y="412.5" width="37.5" height="27.5" rx="13.0" fill="#dde8f9" stroke="#5b8fcb" stroke-width="1.7"/>
<rect x="453.3" y="433.0" width="38.5" height="27.8" rx="13.0" fill="#dde8f9" stroke="#5b8fcb" stroke-width="1.7"/>
<path d="M279.40 530.60 C279.75 529.47 282.13 527.23 281.50 523.80 C280.87 520.37 277.73 514.80 275.60 510.00 C273.48 505.20 270.89 500.42 268.75 495.00 C266.61 489.58 263.27 481.42 262.75 477.50 C262.23 473.58 264.23 472.08 265.60 471.50 C266.98 470.92 269.23 471.54 271.00 474.00 C272.77 476.46 274.33 481.71 276.25 486.25 C278.17 490.79 280.38 496.46 282.50 501.25 C284.62 506.04 287.23 511.88 289.00 515.00 C290.77 518.12 291.64 519.48 293.10 520.00 C294.56 520.52 296.92 518.93 297.75 518.10 C298.58 517.27 298.77 517.81 298.10 515.00 C297.43 512.19 295.52 506.67 293.75 501.25 C291.98 495.83 289.54 488.23 287.50 482.50 C285.46 476.77 282.02 470.38 281.50 466.90 C280.98 463.42 283.15 462.12 284.40 461.60 C285.65 461.08 287.23 460.68 289.00 463.75 C290.77 466.82 292.75 474.38 295.00 480.00 C297.25 485.62 300.17 492.71 302.50 497.50 C304.83 502.29 307.17 506.32 309.00 508.75 C310.83 511.18 312.08 512.06 313.50 512.10 C314.92 512.14 316.88 509.98 317.50 509.00 C318.12 508.02 318.29 509.62 317.25 506.25 C316.21 502.88 313.50 494.79 311.25 488.75 C309.00 482.71 305.98 475.31 303.75 470.00 C301.52 464.69 298.42 459.86 297.90 456.90 C297.38 453.94 299.38 452.67 300.60 452.25 C301.83 451.83 303.27 451.02 305.25 454.40 C307.23 457.77 309.83 466.36 312.50 472.50 C315.17 478.64 318.54 486.46 321.25 491.25 C323.96 496.04 326.77 499.23 328.75 501.25 C330.73 503.27 331.81 503.71 333.10 503.40 C334.39 503.09 336.02 500.80 336.50 499.40 C336.98 498.00 336.88 498.23 336.00 495.00 C335.12 491.77 333.29 485.21 331.25 480.00 C329.21 474.79 325.93 468.43 323.75 463.75 C321.57 459.07 319.06 455.02 318.20 451.90 C317.34 448.77 317.88 446.82 318.60 445.00 C319.32 443.18 321.10 441.83 322.50 441.00 C323.90 440.17 324.92 440.17 327.00 440.00 C329.08 439.83 333.67 440.00 335.00 440.00" fill="none" stroke="#9c0f22" stroke-width="5.6" stroke-linecap="round" stroke-linejoin="round"/>
<path d="M279.40 530.60 C279.75 529.47 282.13 527.23 281.50 523.80 C280.87 520.37 277.73 514.80 275.60 510.00 C273.48 505.20 270.89 500.42 268.75 495.00 C266.61 489.58 263.27 481.42 262.75 477.50 C262.23 473.58 264.23 472.08 265.60 471.50 C266.98 470.92 269.23 471.54 271.00 474.00 C272.77 476.46 274.33 481.71 276.25 486.25 C278.17 490.79 280.38 496.46 282.50 501.25 C284.62 506.04 287.23 511.88 289.00 515.00 C290.77 518.12 291.64 519.48 293.10 520.00 C294.56 520.52 296.92 518.93 297.75 518.10 C298.58 517.27 298.77 517.81 298.10 515.00 C297.43 512.19 295.52 506.67 293.75 501.25 C291.98 495.83 289.54 488.23 287.50 482.50 C285.46 476.77 282.02 470.38 281.50 466.90 C280.98 463.42 283.15 462.12 284.40 461.60 C285.65 461.08 287.23 460.68 289.00 463.75 C290.77 466.82 292.75 474.38 295.00 480.00 C297.25 485.62 300.17 492.71 302.50 497.50 C304.83 502.29 307.17 506.32 309.00 508.75 C310.83 511.18 312.08 512.06 313.50 512.10 C314.92 512.14 316.88 509.98 317.50 509.00 C318.12 508.02 318.29 509.62 317.25 506.25 C316.21 502.88 313.50 494.79 311.25 488.75 C309.00 482.71 305.98 475.31 303.75 470.00 C301.52 464.69 298.42 459.86 297.90 456.90 C297.38 453.94 299.38 452.67 300.60 452.25 C301.83 451.83 303.27 451.02 305.25 454.40 C307.23 457.77 309.83 466.36 312.50 472.50 C315.17 478.64 318.54 486.46 321.25 491.25 C323.96 496.04 326.77 499.23 328.75 501.25 C330.73 503.27 331.81 503.71 333.10 503.40 C334.39 503.09 336.02 500.80 336.50 499.40 C336.98 498.00 336.88 498.23 336.00 495.00 C335.12 491.77 333.29 485.21 331.25 480.00 C329.21 474.79 325.93 468.43 323.75 463.75 C321.57 459.07 319.06 455.02 318.20 451.90 C317.34 448.77 317.88 446.82 318.60 445.00 C319.32 443.18 321.10 441.83 322.50 441.00 C323.90 440.17 324.92 440.17 327.00 440.00 C329.08 439.83 333.67 440.00 335.00 440.00" fill="none" stroke="#d3192d" stroke-width="4.0" stroke-linecap="round" stroke-linejoin="round"/>
<path d="M357 452 L357 469.5" stroke="#000" stroke-width="2.6" fill="none"/>
<path d="M346.7 485.8 L357 470.3 L367.5 485.8" stroke="#fcc012" stroke-width="3.6" stroke-linecap="round" stroke-linejoin="round" fill="none"/>
<path d="M385.0 449.0 L385.0 462.5" stroke="#000" stroke-width="2.6" stroke-linecap="round" fill="none"/>
<path d="M385.06 465.80 L385.64 478.40" stroke="#57334f" stroke-width="7.2" stroke-linecap="round" fill="none"/>
<path d="M385.06 465.80 L385.64 478.40" stroke="#fbb616" stroke-width="4.6" stroke-linecap="round" fill="none"/>
<circle cx="392.6" cy="479.0" r="5.75" fill="#fbb616" stroke="#57334f" stroke-width="1.3"/>
<g transform="translate(362.0 330.3) rotate(0.0)">
<rect x="-38.9" y="-17.2" width="77.8" height="34.5" rx="15.0" fill="#0da23e" stroke="#0a4a1c" stroke-width="2.2"/>
<text x="-0.5" y="6.7" text-anchor="middle" font-size="16.8" font-weight="bold" fill="#eefaf0">HRS</text>
</g>
<g transform="translate(368.0 435.3) rotate(-4.9)">
<rect x="-36.2" y="-17.0" width="72.5" height="34.0" rx="15.0" fill="#0da23e" stroke="#0a4a1c" stroke-width="2.2"/>
<text x="-0.5" y="6.7" text-anchor="middle" font-size="16.8" font-weight="bold" fill="#eefaf0">HRS</text>
</g>
<path d="M71.30 332.30 C70.15 334.00 65.45 338.50 64.40 342.50 C63.35 346.50 63.65 351.72 65.00 356.30 C66.35 360.88 69.33 366.13 72.50 370.00 C75.67 373.87 82.08 377.92 84.00 379.50" fill="none" stroke="#5a5a5a" stroke-width="4.0"/>
<path d="M83.8 373.0 L95.0 380.0 L82.5 385.2 Z" fill="#5a5a5a"/>
<path d="M216.70 388.00 C220.87 387.50 233.37 383.83 241.70 385.00 C250.03 386.17 260.32 391.42 266.70 395.00 C273.08 398.58 277.78 404.58 280.00 406.50" fill="none" stroke="#5a5a5a" stroke-width="4.3"/>
<path d="M285.8 401.3 L289.2 413.3 L275.8 410.8 Z" fill="#5a5a5a"/>
<path d="M441.50 484.10 C442.97 484.83 447.78 486.80 450.30 488.50 C452.82 490.20 455.15 492.03 456.60 494.30 C458.05 496.57 458.77 499.35 459.00 502.10 C459.23 504.85 458.53 508.07 458.00 510.80 C457.47 513.53 456.17 517.22 455.80 518.50" fill="none" stroke="#5a5a5a" stroke-width="4.3"/>
<path d="M449.8 516.6 L461.4 520.6 L451.4 529.8 Z" fill="#5a5a5a"/>
<path d="M517.50 471.00 C519.58 469.58 526.25 465.58 530.00 462.50 C533.75 459.42 537.40 456.25 540.00 452.50 C542.60 448.75 544.25 444.17 545.60 440.00 C546.95 435.83 547.58 432.25 548.10 427.50 C548.62 422.75 548.64 414.17 548.75 411.50" fill="none" stroke="#5a5a5a" stroke-width="4.3"/>
<path d="M542.4 412.4 L555.1 412.4 L548.8 400.2 Z" fill="#5a5a5a"/>
<polygon points="318.9,423.2 341.7,393.9 336.6,391.3 353.3,383.3 349.7,401.5 345.9,397.2 323.1,426.6" fill="#fb0f12"/>
<path d="M360 352.5 L364.3 398" stroke="#000" stroke-width="4.3" stroke-dasharray="11.8 5.6" fill="none"/>
<path d="M358.2 396.5 L370.8 395.3 L365.2 408.3 Z" fill="#000"/>
<path d="M602.7 84 L610.7 99.3 L605.7 99.3 L605.7 109 L600 109 L600 99.3 L595 99.3 Z" fill="#fb0f12"/>
<path d="M508.5 118.3 L517.3 137.3 L500 137.3 Z" fill="#fb0f12"/>
<text x="597.8" y="40.7" font-size="22.60" font-weight="bold" text-anchor="middle" >Metastasis</text>
<text x="593.0" y="75.0" font-size="18.90" font-weight="bold" text-anchor="middle" >Migration and invasion</text>
<text x="521.7" y="135.0" font-size="17.05" font-weight="normal" text-anchor="start" >FAK/Src/ERK signaling</text>
<text x="77.5" y="328.8" font-size="14.90" font-weight="bold" text-anchor="start" >EGFR</text>
<text x="154.7" y="326.6" font-size="14.90" font-weight="bold" text-anchor="start" >Integrin</text>
<text x="55.5" y="450.8" font-size="13.10" font-weight="bold" text-anchor="start" >Early Endosome</text>
<text x="405.8" y="433.8" font-size="16.55" font-weight="bold" text-anchor="start" >ESCRTs</text>
<text x="412.2" y="576.1" font-size="21.50" font-weight="bold" text-anchor="start" >ILV</text>
<text x="425.0" y="668.3" font-size="21.90" font-weight="bold" text-anchor="start" >MVB</text>
<text x="556.5" y="241.7" font-size="15.10" font-weight="bold" text-anchor="middle" >Oncogenic</text>
<text x="556.5" y="260.2" font-size="15.10" font-weight="bold" text-anchor="middle" >Exosome</text>
<text transform="translate(259 465.5) rotate(-28)" font-size="16.8" font-weight="bold">GPR143</text>
</svg>
</body></html>
